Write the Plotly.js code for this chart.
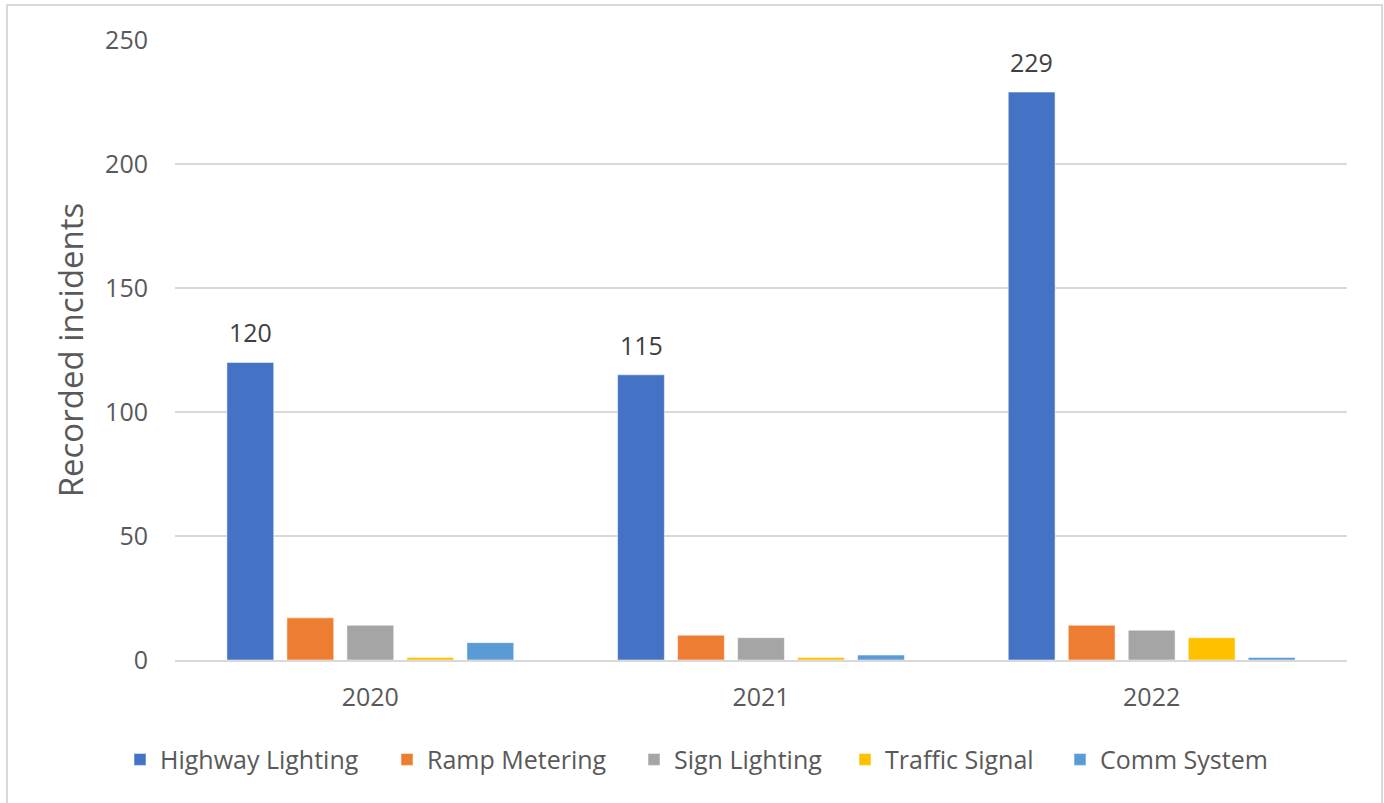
<!DOCTYPE html>
<html>
<head>
<meta charset="utf-8">
<script src="https://cdn.plot.ly/plotly-3.0.1.min.js"></script>
<style>
html,body{margin:0;padding:0;background:#fff;}
#wrap{position:relative;width:1384px;height:803px;}
#chart{width:1384px;height:803px;}
#frame{position:absolute;left:6px;top:4px;width:1377px;height:806px;border:2px solid #d9d9d9;pointer-events:none;box-sizing:border-box;}
</style>
</head>
<body>
<div id="wrap"><div id="chart"></div><div id="frame"></div></div>
<script>
const years = ['2020', '2021', '2022'];
const seriesNames = ['Highway Lighting', 'Ramp Metering', 'Sign Lighting', 'Traffic Signal', 'Comm System'];
const highwayLighting = [120, 115, 229];
const rampMetering = [17, 10, 14];
const signLighting = [14, 9, 12];
const trafficSignal = [1, 1, 9];
const commSystem = [7, 2, 1];
const colors = ['#4472c4', '#ed7d31', '#a5a5a5', '#ffc000', '#5b9bd5'];
const FONT = '"Open Sans", "Noto Sans", sans-serif';

// legend entry left edges (px) in the container, one legend box per series
const legendLeft = [120, 387, 634, 845, 1060];
const legendIds = ['legend', 'legend2', 'legend3', 'legend4', 'legend5'];

const allValues = [highwayLighting, rampMetering, signLighting, trafficSignal, commSystem];
const traces = allValues.map((vals, i) => ({
  type: 'bar',
  name: seriesNames[i],
  x: years,
  y: vals,
  legend: legendIds[i],
  marker: {color: colors[i], line: {color: 'rgba(255,255,255,0.5)', width: 1}},
  hoverinfo: 'x+y+name'
}));

// Data labels for the first series (Highway Lighting), placed above its bar
const BAR_OFFSET = -120; // first of five bars in each group, px from category centre
const annotations = years.map((yr, k) => ({
  x: k, y: highwayLighting[k], xref: 'x', yref: 'y',
  text: String(highwayLighting[k]), showarrow: false,
  xshift: BAR_OFFSET, yshift: 30, yanchor: 'middle',
  font: {family: FONT, size: 25, color: '#404040'}
}));

const layout = {
  width: 1384, height: 803,
  margin: {l: 175, r: 37, t: 40, b: 143},
  paper_bgcolor: '#fff', plot_bgcolor: '#fff',
  font: {family: FONT, color: '#595959'},
  barmode: 'group',
  bargap: 0.232,
  bargroupgap: 0.22,
  showlegend: true,
  annotations: annotations,
  xaxis: {
    type: 'category',
    showgrid: false, zeroline: false,
    showline: true, linecolor: '#d9d9d9', linewidth: 2,
    ticks: '', tickfont: {family: FONT, size: 25, color: '#595959'},
    ticklabelstandoff: 14
  },
  yaxis: {
    range: [0, 250], dtick: 50, tick0: 0,
    showgrid: true, gridcolor: '#d9d9d9', gridwidth: 1.5,
    zeroline: false, showline: false, ticks: '',
    tickfont: {family: FONT, size: 25, color: '#595959'},
    ticklabelstandoff: 26,
    title: {text: 'Recorded incidents', font: {family: FONT, size: 33, color: '#595959'}, standoff: 11}
  }
};
legendIds.forEach((id, i) => {
  layout[id] = {
    orientation: 'h', xref: 'container', yref: 'container',
    x: legendLeft[i] / 1384, xanchor: 'left', y: 0.054, yanchor: 'middle',
    font: {family: FONT, size: 25, color: '#595959'},
    itemwidth: 30, bgcolor: 'rgba(0,0,0,0)'
  };
});

Plotly.newPlot('chart', traces, layout, {displayModeBar: false, staticPlot: true});
</script>
</body>
</html>
